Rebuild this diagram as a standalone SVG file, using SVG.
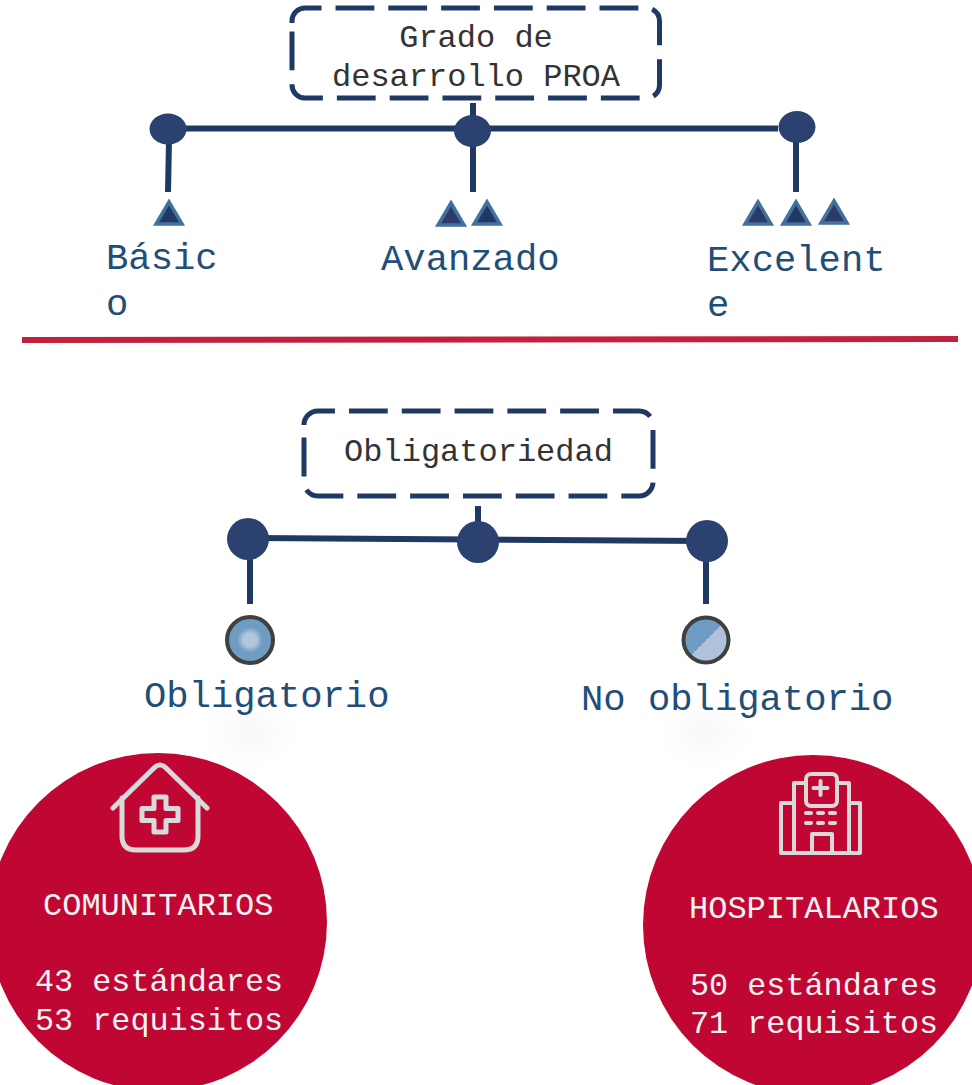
<svg xmlns="http://www.w3.org/2000/svg" width="972" height="1085" viewBox="0 0 972 1085">
<defs>
<radialGradient id="sh"><stop offset="0" stop-color="#ececec" stop-opacity=".4"/><stop offset="1" stop-color="#f4f4f4" stop-opacity="0"/></radialGradient>
<radialGradient id="glow"><stop offset="0" stop-color="#b4c7df"/><stop offset=".3" stop-color="#b0c4dc"/><stop offset=".55" stop-color="#6f9cc3"/><stop offset="1" stop-color="#6f9cc3"/></radialGradient>
<linearGradient id="half" x1="0" y1="0" x2="1" y2="1"><stop offset=".5" stop-color="#6f9cc3"/><stop offset=".5" stop-color="#b0c2db"/></linearGradient>
</defs>
<style>
text{font-family:"Liberation Mono","DejaVu Sans Mono",monospace;white-space:pre}
.box{fill:#fff;stroke:#1f3864;stroke-width:5;stroke-dasharray:38.8 14}
.boxt{font-size:32px;fill:#333;text-anchor:middle}
.lab{font-size:37.2px;fill:#1f4e79}
.wt{font-size:32px;fill:#f2f2f2}
.wts{font-size:31.800px;fill:#f2f2f2}
.ln{stroke:#203864;stroke-width:6;fill:none}
.dot{fill:#2b4270}
.tri{fill:#1f3864;stroke:#41719c;stroke-width:3.5}
.ring{stroke:#404040;stroke-width:4}
.ic{fill:none;stroke:#d9d9d9;stroke-width:5;stroke-linejoin:round;stroke-linecap:round}
.ic2{fill:none;stroke:#d9d9d9;stroke-width:4;stroke-linejoin:round}
</style>
<g id="connectors">
<path class="ln" d="M473 103V192M168 128.500H778M169 140L168 192M796 128V192"/>
<path class="ln" d="M478 506V540M248 538L706 541M250 555V604M706 558V604"/>
<path d="M22 340L958 339" stroke="#c0213f" stroke-width="6" fill="none"/>
</g>
<g id="grado"><path class="box" d="M292 23V21A13 13 0 0 1 305 8H646.500A13 13 0 0 1 659.500 21V85A13 13 0 0 1 646.500 98H305A13 13 0 0 1 292 85Z"/>
<text class="boxt" x="476" y="47">Grado de</text><text class="boxt" x="476" y="86">desarrollo PROA</text></g>
<g id="d1"><ellipse class="dot" cx="168" cy="129" rx="18.5" ry="15.5"/></g>
<g id="d2"><ellipse class="dot" cx="472.500" cy="131" rx="18.500" ry="16"/></g>
<g id="d3"><ellipse class="dot" cx="797" cy="127" rx="18.500" ry="16"/></g>
<g id="basico"><path class="tri" d="M169 202L182 224H156Z"/>
<text class="lab" x="106" y="269">Básic</text><text class="lab" x="106" y="315">o</text></g>
<g id="avanzado"><path class="tri" d="M451 203L464 225H438Z" style="fill:#2b3a68"/><path class="tri" d="M487 202L500 224H474Z"/>
<text class="lab" x="381" y="270">Avanzado</text></g>
<g id="excelente"><path class="tri" d="M758 202L771 224H745Z" style="fill:#2b3a68"/><path class="tri" d="M796 202L809 224H783Z"/><path class="tri" d="M834 201L847 223H821Z" style="fill:#2b3a68"/>
<text class="lab" x="707" y="271">Excelent</text><text class="lab" x="707" y="316">e</text></g>
<g id="obligatoriedad"><path class="box" d="M304 425A14 14 0 0 1 318 411H639A14 14 0 0 1 653 425V482A14 14 0 0 1 639 496H318A14 14 0 0 1 304 482Z"/>
<text class="boxt" x="478.500" y="461">Obligatoriedad</text></g>
<g id="d4"><circle class="dot" cx="248" cy="539" r="21"/></g>
<g id="d5"><circle class="dot" cx="478" cy="542" r="21"/></g>
<g id="d6"><circle class="dot" cx="707" cy="541" r="21"/></g>
<ellipse cx="250" cy="733" rx="50" ry="38" fill="url(#sh)"/>
<ellipse cx="705" cy="733" rx="50" ry="38" fill="url(#sh)"/>
<g id="obligatorio"><circle class="ring" cx="250" cy="640" r="23" fill="url(#glow)"/>
<text class="lab" x="144" y="707">Obligatorio</text></g>
<g id="noobligatorio"><circle class="ring" cx="706" cy="640" r="22.500" fill="url(#half)"/>
<text class="lab" x="581" y="710">No obligatorio</text></g>
<g id="comunitarios"><circle cx="158" cy="922" r="169" fill="#c00733"/>
<path class="ic" d="M113 808L155 767Q160 763 165 767L207 808M122 798V836Q122 850 136 850H184Q198 850 198 836V798"/>
<path class="ic" d="M154 797H166V808.500H178V820.500H166V832H154V820.500H142V808.500H154Z"/>
<text class="wt" x="43" y="915">COMUNITARIOS</text><text class="wts" x="35" y="991">43 estándares</text><text class="wts" x="35" y="1030">53 requisitos</text></g>
<g id="hospitalarios"><circle cx="813" cy="925" r="170" fill="#c00733"/>
<g class="ic2"><rect x="806" y="774" width="31" height="32" rx="5"/><path d="M820.500 781V795M813.500 788H827.500" stroke-linecap="round"/>
<path d="M806 783H794V853M837 783H849V853M794 803H781V853H860V803H849"/><path d="M812 853V834H832V853"/></g>
<path d="M806 813h5M818 813h5M830 813h5M806 823h5M818 823h5M830 823h5" stroke="#d9d9d9" stroke-width="4" stroke-linecap="round"/>
<text class="wt" x="689" y="918">HOSPITALARIOS</text><text class="wts" x="690" y="995">50 estándares</text><text class="wts" x="690" y="1033">71 requisitos</text></g>
</svg>
